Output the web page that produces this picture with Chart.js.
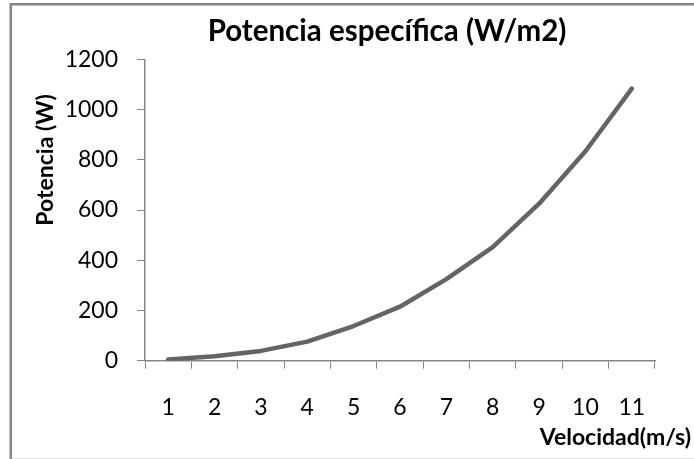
<!DOCTYPE html>
<html>
<head>
<meta charset="utf-8">
<script src="https://cdn.jsdelivr.net/npm/chart.js@4"></script>
<style>
  html, body { margin: 0; padding: 0; background: #fff; }
  #wrap { width: 694px; height: 459px; position: relative; }
</style>
</head>
<body>
<div id="wrap"><canvas id="chart" width="694" height="459"></canvas></div>
<script>
// DATA
const velocities = ['1', '2', '3', '4', '5', '6', '7', '8', '9', '10', '11'];
const power = [5, 18, 39, 76, 138, 215, 325, 452, 625, 834, 1083];
const yTicks = [0, 200, 400, 600, 800, 1000, 1200];

const chartTitle = 'Potencia específica (W/m2)';
const xTitle = 'Velocidad(m/s)';
const yTitle = 'Potencia (W)';

const FONT = 'Lato, "Open Sans", sans-serif';
const AXIS = '#868686';

// frame + titles drawn around the plot
const decorations = {
    id: 'decorations',
    beforeDraw(chart) {
        const ctx = chart.ctx;
        ctx.save();
        ctx.fillStyle = '#fff';
        ctx.fillRect(0, 0, chart.width, chart.height);
        ctx.strokeStyle = AXIS;
        ctx.lineWidth = 2.5;
        ctx.beginPath();
        ctx.moveTo(10.75, chart.height);
        ctx.lineTo(10.75, 4.25);
        ctx.lineTo(chart.width, 4.25);
        ctx.stroke();
        ctx.strokeStyle = '#e0e0e0';
        ctx.lineWidth = 1;
        ctx.beginPath();
        ctx.moveTo(12, chart.height - 0.5);
        ctx.lineTo(chart.width, chart.height - 0.5);
        ctx.stroke();
        ctx.restore();
    },
    afterDraw(chart) {
        const ctx = chart.ctx;
        ctx.save();
        ctx.fillStyle = '#000';
        ctx.textBaseline = 'middle';

        ctx.font = 'bold 29.5px ' + FONT;
        ctx.textAlign = 'center';
        ctx.fillText(chartTitle, 387, 31);

        ctx.font = 'bold 23px ' + FONT;
        ctx.textAlign = 'right';
        ctx.fillText(xTitle, 691, 438);

        ctx.translate(46, 160);
        ctx.rotate(-Math.PI / 2);
        ctx.font = 'bold 23px ' + FONT;
        ctx.textAlign = 'center';
        ctx.fillText(yTitle, 0, 0);
        ctx.restore();
    }
};

new Chart(document.getElementById('chart'), {
    type: 'line',
    data: {
        labels: velocities,
        datasets: [{
            label: chartTitle,
            data: power,
            borderColor: '#646464',
            borderWidth: 4.5,
            borderCapStyle: 'round',
            borderJoinStyle: 'round',
            pointRadius: 0,
            tension: 0,
            fill: false
        }]
    },
    options: {
        responsive: false,
        animation: false,
        layout: { padding: { top: 59.3, right: 39, left: 0, bottom: 0 } },
        plugins: {
            legend: { display: false },
            tooltip: { enabled: false }
        },
        scales: {
            x: {
                offset: true,
                grid: {
                    display: true,
                    drawOnChartArea: false,
                    offset: true,
                    tickLength: 8,
                    color: AXIS
                },
                border: { color: AXIS, width: 1.5 },
                ticks: {
                    color: '#000',
                    font: { family: FONT, size: 23 },
                    padding: 25,
                    maxRotation: 0
                },
                afterFit(scale) { scale.height = 459 - 360.7; }
            },
            y: {
                min: 0,
                max: 1200,
                afterBuildTicks(scale) { scale.ticks = yTicks.map(v => ({ value: v })); },
                grid: {
                    display: true,
                    drawOnChartArea: false,
                    tickLength: 8,
                    color: AXIS
                },
                border: { color: AXIS, width: 1.5 },
                ticks: {
                    color: '#000',
                    font: { family: FONT, size: 23 },
                    padding: 19,
                    callback: v => String(v)
                },
                afterFit(scale) { scale.width = 145; }
            }
        }
    },
    plugins: [decorations]
});
</script>
</body>
</html>
